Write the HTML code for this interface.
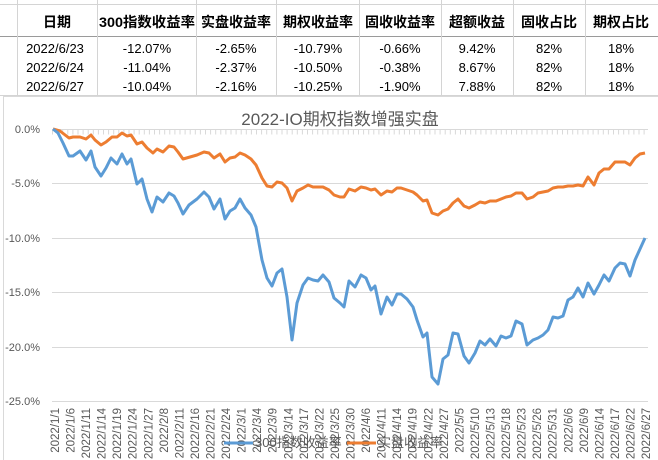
<!DOCTYPE html>
<html><head><meta charset="utf-8"><style>
html,body{margin:0;padding:0;background:#fff;}
svg{display:block;font-family:"Liberation Sans","Noto Sans CJK SC",sans-serif;}
</style></head><body>
<svg width="658" height="460" viewBox="0 0 658 460" xmlns="http://www.w3.org/2000/svg">
<rect width="658" height="460" fill="#fff"/>
<g stroke="#d4d4d4" stroke-width="1">
<line x1="0" y1="4.5" x2="658" y2="4.5"/>
<line x1="0" y1="36.5" x2="658" y2="36.5" stroke="#9a9a9a"/>
<line x1="0" y1="95.5" x2="658" y2="95.5"/>
<line x1="17.5" y1="0" x2="17.5" y2="96"/>
<line x1="97.5" y1="0" x2="97.5" y2="96"/>
<line x1="196.5" y1="0" x2="196.5" y2="96"/>
<line x1="276.5" y1="0" x2="276.5" y2="96"/>
<line x1="359.5" y1="0" x2="359.5" y2="96"/>
<line x1="441.5" y1="0" x2="441.5" y2="96"/>
<line x1="513.5" y1="0" x2="513.5" y2="96"/>
<line x1="585.5" y1="0" x2="585.5" y2="96"/>
</g>
<g font-size="14" font-weight="bold" fill="#000" text-anchor="middle">
<text x="57" y="27">日期</text>
<text x="147" y="27" textLength="96" lengthAdjust="spacingAndGlyphs">300指数收益率</text>
<text x="236" y="27">实盘收益率</text>
<text x="318" y="27">期权收益率</text>
<text x="400" y="27">固收收益率</text>
<text x="477" y="27">超额收益</text>
<text x="549" y="27">固收占比</text>
<text x="621" y="27">期权占比</text>
</g>
<g font-size="13" fill="#000" text-anchor="middle">
<text x="55" y="53">2022/6/23</text><text x="147" y="53">-12.07%</text><text x="236" y="53">-2.65%</text><text x="318" y="53">-10.79%</text><text x="400" y="53">-0.66%</text><text x="477" y="53">9.42%</text><text x="549" y="53">82%</text><text x="621" y="53">18%</text>
<text x="55" y="72">2022/6/24</text><text x="147" y="72">-11.04%</text><text x="236" y="72">-2.37%</text><text x="318" y="72">-10.50%</text><text x="400" y="72">-0.38%</text><text x="477" y="72">8.67%</text><text x="549" y="72">82%</text><text x="621" y="72">18%</text>
<text x="55" y="91">2022/6/27</text><text x="147" y="91">-10.04%</text><text x="236" y="91">-2.16%</text><text x="318" y="91">-10.25%</text><text x="400" y="91">-1.90%</text><text x="477" y="91">7.88%</text><text x="549" y="91">82%</text><text x="621" y="91">18%</text>
</g>
<rect x="3.5" y="96.5" width="660" height="370" fill="#fff" stroke="#d9d9d9"/>
<text x="340" y="125" font-size="17" fill="#595959" text-anchor="middle">2022-IO期权指数增强实盘</text>
<g stroke="#d9d9d9" stroke-width="1">
<line x1="52" y1="183.5" x2="648" y2="183.5"/>
<line x1="52" y1="238.5" x2="648" y2="238.5"/>
<line x1="52" y1="292.5" x2="648" y2="292.5"/>
<line x1="52" y1="347.5" x2="648" y2="347.5"/>
<line x1="52" y1="401.5" x2="648" y2="401.5"/>
<line x1="52" y1="129.5" x2="648" y2="129.5"/>
<line x1="52" y1="132" x2="648" y2="132" stroke-width="5" stroke-dasharray="1 4.1"/>
</g>
<g font-size="11" fill="#595959" text-anchor="end">
<text x="40" y="133">0.0%</text>
<text x="40" y="187">-5.0%</text>
<text x="40" y="242">-10.0%</text>
<text x="40" y="296">-15.0%</text>
<text x="40" y="351">-20.0%</text>
<text x="40" y="405">-25.0%</text>
</g>
<polyline fill="none" stroke="#ed7d31" stroke-width="3" stroke-linejoin="round" points="53,129 60,131 69,138 73,137 80,137 86,139 91,135 95,140 101,145 106,142 112,137 117,137 122,133 127,136 131,135 137,144 142,142 147,148 153,153 157,149 163,152 169,146 174,147 178,152 183,159 190,157 197,155 204,152 209,153 214,158 220,154 225,162 230,158 235,157 240,153 245,155 251,159 256,165 262,178 267,186 272,187 277,182 282,183 287,188 292,201 297,191 303,188 308,185 313,187 318,187 323,187 329,190 334,195 340,197 344,197 349,189 355,191 361,187 366,188 371,190 375,189 381,195 387,191 392,192 397,188 401,188 407,190 413,192 417,195 423,201 427,200 432,213 438,215 443,211 448,209 453,203 458,199 464,206 469,208 475,205 480,202 485,203 490,201 496,201 501,199 506,197 511,196 516,193 522,193 527,199 533,197 538,193 543,192 548,191 553,188 558,187 563,187 568,186 573,186 578,185 583,186 588,177 594,185 599,173 604,169 609,169 615,162 620,162 625,162 630,165 635,158 640,154 645,153"/>
<polyline fill="none" stroke="#5b9bd5" stroke-width="3" stroke-linejoin="round" points="53,129 58,133 63,143 69,156 73,156 80,151 86,160 91,151 95,167 101,176 106,168 111,158 117,164 122,154 127,164 131,159 137,184 142,179 147,199 152,212 157,197 163,202 169,193 174,196 178,203 183,214 189,205 197,199 204,192 209,197 214,209 220,199 225,219 230,211 235,208 240,199 245,208 251,215 256,227 262,260 267,278 272,286 277,273 282,269 287,297 292,340 297,303 303,285 308,278 313,280 318,281 323,275 329,282 334,298 340,303 344,307 349,281 355,287 361,275 366,278 371,290 375,286 381,314 387,297 392,305 397,294 401,294 407,299 413,307 417,320 423,337 427,333 432,377 438,384 443,359 448,355 453,333 458,334 464,356 469,363 475,353 480,341 485,345 490,339 496,346 501,336 506,338 511,336 516,321 522,324 527,345 533,340 538,338 543,335 548,330 553,317 558,318 563,316 568,300 573,297 578,288 583,297 588,283 594,294 599,285 604,275 609,281 615,268 620,263 625,264 630,276 635,260 645,238"/>
<g font-size="11.5" fill="#595959" text-anchor="end">
<text transform="translate(59,408) rotate(-90)">2022/1/1</text>
<text transform="translate(74.5,408) rotate(-90)">2022/1/6</text>
<text transform="translate(90,408) rotate(-90)">2022/1/11</text>
<text transform="translate(105.6,408) rotate(-90)">2022/1/14</text>
<text transform="translate(121.2,408) rotate(-90)">2022/1/19</text>
<text transform="translate(136.7,408) rotate(-90)">2022/1/24</text>
<text transform="translate(152.3,408) rotate(-90)">2022/1/27</text>
<text transform="translate(167.8,408) rotate(-90)">2022/2/8</text>
<text transform="translate(183.4,408) rotate(-90)">2022/2/11</text>
<text transform="translate(199,408) rotate(-90)">2022/2/16</text>
<text transform="translate(214.5,408) rotate(-90)">2022/2/21</text>
<text transform="translate(230,408) rotate(-90)">2022/2/24</text>
<text transform="translate(245.6,408) rotate(-90)">2022/3/1</text>
<text transform="translate(261.2,408) rotate(-90)">2022/3/4</text>
<text transform="translate(276.7,408) rotate(-90)">2022/3/9</text>
<text transform="translate(292.3,408) rotate(-90)">2022/3/14</text>
<text transform="translate(307.8,408) rotate(-90)">2022/3/17</text>
<text transform="translate(323.4,408) rotate(-90)">2022/3/22</text>
<text transform="translate(339,408) rotate(-90)">2022/3/25</text>
<text transform="translate(354.5,408) rotate(-90)">2022/3/30</text>
<text transform="translate(370,408) rotate(-90)">2022/4/6</text>
<text transform="translate(385.6,408) rotate(-90)">2022/4/11</text>
<text transform="translate(401.2,408) rotate(-90)">2022/4/14</text>
<text transform="translate(416.7,408) rotate(-90)">2022/4/19</text>
<text transform="translate(432.3,408) rotate(-90)">2022/4/22</text>
<text transform="translate(447.8,408) rotate(-90)">2022/4/27</text>
<text transform="translate(463.4,408) rotate(-90)">2022/5/5</text>
<text transform="translate(479,408) rotate(-90)">2022/5/10</text>
<text transform="translate(494.5,408) rotate(-90)">2022/5/13</text>
<text transform="translate(510,408) rotate(-90)">2022/5/18</text>
<text transform="translate(525.6,408) rotate(-90)">2022/5/23</text>
<text transform="translate(541.2,408) rotate(-90)">2022/5/26</text>
<text transform="translate(556.7,408) rotate(-90)">2022/5/31</text>
<text transform="translate(572.3,408) rotate(-90)">2022/6/6</text>
<text transform="translate(587.8,408) rotate(-90)">2022/6/9</text>
<text transform="translate(603.4,408) rotate(-90)">2022/6/14</text>
<text transform="translate(619,408) rotate(-90)">2022/6/17</text>
<text transform="translate(634.5,408) rotate(-90)">2022/6/22</text>
<text transform="translate(650,408) rotate(-90)">2022/6/27</text>
</g>
<line x1="224" y1="443" x2="253" y2="443" stroke="#5b9bd5" stroke-width="3"/>
<text x="255" y="447" font-size="13" fill="#595959">300指数收益率</text>
<line x1="347" y1="443" x2="376" y2="443" stroke="#ed7d31" stroke-width="3"/>
<text x="378" y="447" font-size="13" fill="#595959">实盘收益率</text>
</svg>
</body></html>
